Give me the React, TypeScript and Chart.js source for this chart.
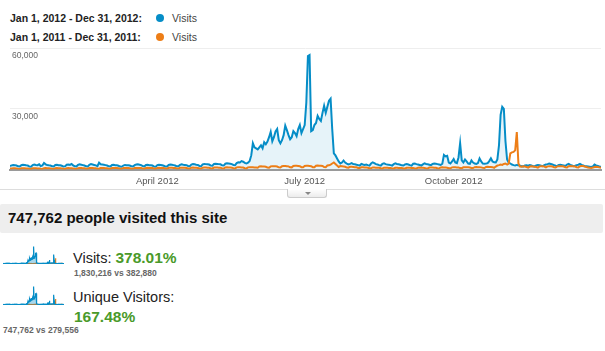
import React, { useEffect, useRef } from 'react';
import { Chart, registerables } from 'chart.js';

Chart.register(...registerables);

// Daily visits, Jan 1 – Dec 31, 2012 (366 days)
const visits2012: number[] = [
  // Jan
  1800, 2100, 2300, 2200, 2000, 1600, 1500, 2200, 2400, 2300, 2100, 2000, 1500, 1400, 2200, 2500, 2300, 2200, 2600, 1700, 2000, 3300, 2600, 2300, 2100, 2000, 1600, 1500, 2300, 2400, 2200,
  // Feb
  2100, 1900, 1500, 1600, 2400, 2500, 2300, 2800, 2100, 1600, 1500, 2300, 2600, 2400, 2200, 2000, 1600, 1500, 2400, 2700, 2500, 2300, 2100, 1700, 3400, 2600, 2500, 2400, 2200,
  // Mar
  2000, 1600, 1500, 2300, 2400, 2200, 2100, 1900, 1500, 1400, 2000, 2300, 2200, 2100, 2000, 1600, 1500, 2200, 2500, 2600, 2400, 2200, 1700, 1600, 2300, 2400, 2200, 2100, 2000, 1500, 1400,
  // Apr
  2200, 2400, 2300, 2100, 1900, 1500, 1500, 2300, 2500, 2400, 2200, 2000, 1600, 1600, 2300, 2600, 2400, 2300, 2200, 1800, 1700, 2500, 2700, 2600, 2400, 2300, 1800, 1700, 2600, 2800,
  // May
  2700, 2600, 2500, 2000, 1900, 2800, 2900, 2800, 2700, 2600, 2100, 2000, 2900, 3100, 3000, 2900, 2700, 2300, 2200, 3200, 3600, 3500, 4200, 3900, 3300, 3000, 3400, 4200, 7000, 13000, 11000,
  // Jun
  10500, 10000, 11000, 12000, 10500, 13500, 12500, 13800, 16000, 18600, 14000, 16000, 18800, 20000, 14500, 13000, 14500, 17000, 21700, 19500, 17000, 15000, 16000, 19000, 18000, 16500, 20000, 22000, 18000, 20000,
  // Jul
  22000, 33000, 56000, 56500, 19000, 19500, 22000, 23000, 26500, 25000, 24000, 28000, 31500, 28000, 31000, 34000, 35000, 20000, 8000, 7000, 5500, 4000, 3000, 3500, 4500, 3500, 3000, 2600, 2800, 3200, 2700,
  // Aug
  2600, 2400, 2200, 2000, 2800, 2500, 2300, 2500, 2200, 2000, 3000, 3600, 3200, 2700, 2500, 2200, 2000, 2800, 3100, 2700, 2500, 2400, 2200, 2000, 2700, 3100, 2800, 2600, 2400, 2100, 2000,
  // Sep
  2600, 2800, 2500, 2200, 2000, 2900, 3000, 2700, 2500, 2300, 2000, 2600, 3100, 2800, 2600, 2400, 2200, 2800, 3000, 2900, 2700, 2500, 2300, 2900, 7200, 6500, 6800, 3500, 3000, 4000,
  // Oct
  5200, 3500, 3200, 6000, 13000, 4500, 3500, 5000, 4000, 3000, 2800, 4500, 3500, 3000, 2800, 3200, 5500, 4000, 3000, 2900, 3000, 3200, 4200, 5600, 4000, 3600, 3500, 5000, 12000, 27000, 31000,
  // Nov
  30000, 14000, 5000, 3500, 3000, 2500, 2200, 2000, 2300, 2100, 1900, 1700, 1600, 2000, 2100, 1900, 2200, 2000, 1700, 1600, 2100, 2300, 2100, 1900, 1700, 2200, 2500, 2700, 3000, 2800,
  // Dec
  2500, 2200, 1900, 1800, 2300, 2400, 2200, 2000, 1800, 2500, 2800, 2300, 2100, 1700, 1900, 2200, 2400, 2800, 2300, 2000, 1700, 1600, 1500, 1400, 1300, 1600, 2500, 2100, 1800, 1500, 1400,
];

// Daily visits, Jan 1 – Dec 31, 2011 (aligned by day)
const visits2011: number[] = [
  // Jan
  500, 600, 700, 650, 600, 400, 350, 650, 700, 650, 600, 550, 400, 350, 650, 700, 650, 600, 600, 400, 350, 700, 750, 700, 650, 600, 400, 350, 700, 750, 700,
  // Feb
  650, 600, 400, 350, 700, 750, 700, 650, 600, 400, 350, 700, 800, 750, 700, 650, 450, 400, 750, 800, 750, 700, 650, 450, 400, 750, 800, 750, 700,
  // Mar
  650, 450, 400, 750, 800, 800, 750, 700, 450, 400, 800, 850, 800, 750, 700, 450, 400, 800, 850, 850, 800, 750, 500, 450, 850, 900, 850, 800, 750, 500, 450,
  // Apr
  850, 900, 850, 800, 750, 500, 450, 900, 950, 900, 850, 800, 550, 500, 900, 950, 950, 900, 850, 550, 500, 950, 1000, 950, 900, 850, 550, 500, 950, 1000,
  // May
  1000, 950, 900, 600, 550, 1000, 1050, 1000, 950, 900, 600, 550, 1050, 1100, 1050, 1000, 950, 650, 600, 1100, 1150, 1100, 1050, 1000, 650, 600, 1100, 1200, 1150, 1100, 1050,
  // Jun
  1000, 900, 1500, 1600, 1550, 1500, 1400, 1000, 950, 1600, 1700, 1650, 1600, 1500, 1100, 1000, 1700, 1800, 1750, 1700, 1600, 1150, 1100, 1800, 1900, 1850, 1800, 1700, 1200, 1150,
  // Jul
  1800, 1900, 1850, 1800, 1700, 1200, 1150, 1900, 2000, 1950, 1900, 1800, 1250, 1200, 2000, 2100, 2500, 3000, 3500, 2800, 2000, 1300, 1700, 1600, 1500, 1400, 1000, 950, 1400, 1350, 1300,
  // Aug
  1200, 1150, 800, 750, 1150, 1100, 1050, 1000, 950, 700, 650, 1050, 1000, 950, 900, 900, 650, 600, 950, 900, 900, 850, 850, 600, 550, 900, 900, 850, 850, 800, 600,
  // Sep
  550, 900, 950, 900, 850, 850, 600, 550, 950, 1000, 950, 900, 850, 600, 550, 1000, 1050, 1000, 950, 900, 650, 600, 1050, 1100, 1050, 1000, 950, 700, 650, 1100,
  // Oct
  1150, 1100, 1050, 1000, 750, 700, 1150, 1200, 1150, 1100, 1050, 800, 750, 1200, 1250, 1200, 1150, 1100, 850, 800, 1300, 1350, 1300, 1250, 1200, 900, 1500, 2000, 2200, 2500, 2300,
  // Nov
  2800, 3000, 2500, 3000, 8000, 8500, 8700, 9500, 18500, 3000, 1500, 1400, 1600, 1500, 1300, 1000, 1500, 1600, 1500, 1400, 1300, 1000, 1600, 1700, 1600, 1500, 1100, 1600, 1700, 1600,
  // Dec
  1500, 1200, 1100, 1600, 1700, 1700, 1600, 1500, 1200, 1100, 1700, 1800, 1700, 1600, 1500, 1200, 1100, 1700, 1800, 1800, 1500, 1300, 1000, 900, 800, 1000, 1300, 1400, 1300, 1100, 900,
];

const xTickDays: number[] = [91, 182, 274];
const xTickLabels: string[] = ['April 2012', 'July 2012', 'October 2012'];
const yTickValues: number[] = [0, 30000, 60000];

const legendRanges: string[] = ['Jan 1, 2012 - Dec 31, 2012:', 'Jan 1, 2011 - Dec 31, 2011:'];
const legendMetric = 'Visits';

const BLUE = '#058dc7';
const ORANGE = '#ed7e17';
const GREEN = '#4a9a2a';
const FONT = '"Liberation Sans", Arial, Helvetica, sans-serif';

const toPoints = (arr: number[]) => arr.map((y, i) => ({ x: i, y }));

function mainConfig(): any {
  return {
    type: 'line',
    data: {
      datasets: [
        {
          label: 'Visits 2011',
          data: toPoints(visits2011),
          borderColor: ORANGE,
          borderWidth: 2,
          pointRadius: 0,
          fill: false,
          order: 0,
          tension: 0,
        },
        {
          label: 'Visits 2012',
          data: toPoints(visits2012),
          borderColor: BLUE,
          backgroundColor: 'rgba(5,141,199,0.1)',
          borderWidth: 2,
          pointRadius: 0,
          fill: 'origin',
          order: 1,
          tension: 0,
        },
      ],
    },
    options: {
      animation: false,
      responsive: true,
      maintainAspectRatio: false,
      events: [],
      layout: { padding: { top: 8, left: 6, right: 4, bottom: 0 } },
      plugins: { legend: { display: false }, tooltip: { enabled: false } },
      scales: {
        x: {
          type: 'linear',
          min: 0,
          max: visits2012.length - 1,
          afterBuildTicks: (axis: any) => {
            axis.ticks = xTickDays.map((v) => ({ value: v }));
          },
          ticks: {
            autoSkip: false,
            maxRotation: 0,
            minRotation: 0,
            padding: 6,
            color: '#555',
            font: { family: FONT, size: 9.5 },
            callback: (v: number) => {
              const i = xTickDays.indexOf(v);
              return i >= 0 ? xTickLabels[i] : '';
            },
          },
          grid: { display: false, drawTicks: false },
          border: { display: true, color: '#9a9a9a', width: 2 },
        },
        y: {
          min: 0,
          max: 60000,
          afterBuildTicks: (axis: any) => {
            axis.ticks = yTickValues.map((v) => ({ value: v }));
          },
          ticks: {
            mirror: true,
            padding: 2,
            labelOffset: 8,
            color: '#666',
            font: { family: FONT, size: 8.5 },
            callback: (v: number) => (v === 0 ? '' : v.toLocaleString('en-US')),
          },
          grid: {
            drawTicks: false,
            color: (ctx: any) => (ctx.tick && ctx.tick.value === 0 ? 'rgba(0,0,0,0)' : '#eeeeee'),
          },
          border: { display: false },
        },
      },
    },
  };
}

function sparkConfig(): any {
  return {
    type: 'line',
    data: {
      datasets: [
        {
          data: toPoints(visits2011),
          borderColor: ORANGE,
          borderWidth: 1.2,
          pointRadius: 0,
          fill: false,
          order: 1,
        },
        {
          data: toPoints(visits2012),
          borderColor: BLUE,
          backgroundColor: 'rgba(5,141,199,0.35)',
          borderWidth: 1.2,
          pointRadius: 0,
          fill: 'origin',
          order: 0,
        },
      ],
    },
    options: {
      animation: false,
      responsive: true,
      maintainAspectRatio: false,
      events: [],
      layout: { padding: 0 },
      plugins: { legend: { display: false }, tooltip: { enabled: false } },
      scales: {
        x: {
          type: 'linear',
          min: 0,
          max: visits2012.length - 1,
          ticks: { display: false },
          grid: { display: false, drawTicks: false },
          border: { display: true, color: '#8a8a8a', width: 1 },
        },
        y: { display: false, min: 0, max: 58000 },
      },
    },
  };
}

function ChartBox({ style, makeConfig }: { style: React.CSSProperties; makeConfig: () => any }) {
  const ref = useRef<HTMLCanvasElement | null>(null);
  useEffect(() => {
    const chart = new Chart(ref.current as HTMLCanvasElement, makeConfig());
    return () => chart.destroy();
  }, []);
  return (
    <div style={{ position: 'absolute', ...style }}>
      <canvas ref={ref} />
    </div>
  );
}

function Txt({
  x,
  base,
  size,
  bold,
  color,
  children,
}: {
  x: number;
  base: number;
  size: number;
  bold?: boolean;
  color: string;
  children: React.ReactNode;
}) {
  return (
    <div
      style={{
        position: 'absolute',
        left: x,
        top: base - 0.8465 * size,
        fontSize: size,
        lineHeight: 1,
        fontWeight: bold ? 'bold' : 'normal',
        color,
        whiteSpace: 'nowrap',
        fontFamily: FONT,
      }}
    >
      {children}
    </div>
  );
}

export default function App() {
  const legendColors = [BLUE, ORANGE];
  const legendBases = [22, 41];
  return (
    <div
      style={{
        position: 'fixed',
        left: 0,
        top: 0,
        width: 605,
        height: 351,
        background: '#fff',
        overflow: 'hidden',
        fontFamily: FONT,
      }}
    >
      {legendRanges.map((r, i) => (
        <React.Fragment key={r}>
          <Txt x={10} base={legendBases[i]} size={10.5} bold color="#222">
            {r}
          </Txt>
          <div
            style={{
              position: 'absolute',
              left: 156,
              top: legendBases[i] - 3.7 - 4,
              width: 8,
              height: 8,
              borderRadius: '50%',
              background: legendColors[i],
            }}
          />
          <Txt x={172} base={legendBases[i]} size={10.5} color="#444">
            {legendMetric}
          </Txt>
        </React.Fragment>
      ))}

      <ChartBox style={{ left: 0, top: 40, width: 605, height: 153 }} makeConfig={mainConfig} />

      <div style={{ position: 'absolute', left: 0, top: 189, width: 605, height: 1, background: '#dddddd' }} />
      <div
        style={{
          position: 'absolute',
          left: 287,
          top: 189,
          width: 40,
          height: 9,
          border: '1px solid #cccccc',
          borderTop: 'none',
          borderRadius: '0 0 3px 3px',
          background: 'linear-gradient(#ffffff, #ececec)',
          boxSizing: 'border-box',
        }}
      >
        <div
          style={{
            position: 'absolute',
            left: 17,
            top: 3,
            width: 0,
            height: 0,
            borderLeft: '3px solid transparent',
            borderRight: '3px solid transparent',
            borderTop: '3px solid #888',
          }}
        />
      </div>

      <div
        style={{
          position: 'absolute',
          left: 0,
          top: 204,
          width: 603,
          height: 29,
          background: '#eeeeee',
          borderRadius: 2,
        }}
      />
      <Txt x={8} base={223} size={15} bold color="#111">
        747,762 people visited this site
      </Txt>

      <ChartBox style={{ left: 3, top: 246, width: 61, height: 18 }} makeConfig={sparkConfig} />
      <div
        style={{
          position: 'absolute',
          left: 73,
          top: 263 - 0.8465 * 15.5,
          lineHeight: 1,
          whiteSpace: 'nowrap',
          color: '#222',
        }}
      >
        <span style={{ fontSize: 14.5 }}>Visits: </span>
        <span style={{ fontSize: 15.5, fontWeight: 'bold', color: GREEN }}>378.01%</span>
      </div>
      <Txt x={74} base={276} size={8.5} bold color="#666">
        1,830,216 vs 382,880
      </Txt>

      <ChartBox style={{ left: 3, top: 286, width: 61, height: 19 }} makeConfig={sparkConfig} />
      <Txt x={73} base={302} size={14.5} color="#222">
        Unique Visitors:
      </Txt>
      <Txt x={74} base={322} size={15.5} bold color={GREEN}>
        167.48%
      </Txt>
      <Txt x={3} base={333} size={8.5} bold color="#666">
        747,762 vs 279,556
      </Txt>
    </div>
  );
}
